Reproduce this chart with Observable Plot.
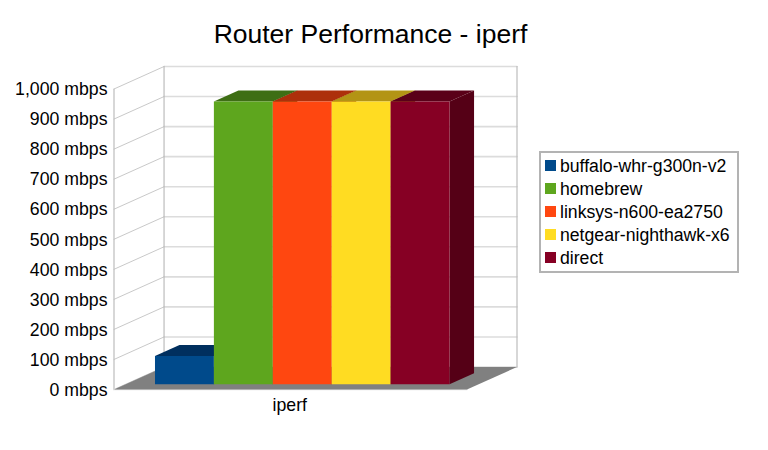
<!DOCTYPE html>
<html>
<head>
<meta charset="utf-8">
<script src="https://cdn.jsdelivr.net/npm/d3@7"></script>
<script src="https://cdn.jsdelivr.net/npm/@observablehq/plot@0.6"></script>
<style>
  html, body { margin: 0; padding: 0; background: #fff; overflow: hidden; }
  body { width: 768px; height: 450px; position: relative; font-family: "Liberation Sans", sans-serif; color: #000; }
  #title { height: 50px; width: 741px; text-align: center; font-size: 26.5px; line-height: 68px; white-space: nowrap; }
  #legend { position: absolute; left: 538.5px; top: 150.5px; width: 196px; height: 118.5px; border: 2px solid #b3b3b3; background: #fff; padding: 0; font-size: 17.65px; }
  #legend div { position: absolute; left: 19.5px; white-space: nowrap; line-height: 20px; }
  #legend i { position: absolute; left: -15px; top: 4px; width: 11px; height: 11px; }
  svg { display: block; }
</style>
</head>
<body>
<div id="title">Router Performance - iperf</div>
<div id="chart"></div>
<div id="legend"></div>
<script>
const category = "iperf";
const seriesNames = ["buffalo-whr-g300n-v2", "homebrew", "linksys-n600-ea2750", "netgear-nighthawk-x6", "direct"];
const seriesValues = [94, 941, 941, 941, 941];
const frontColors = ["#004a8b", "#5ea61e", "#ff4710", "#ffdc22", "#860024"];
const topColors = ["#002f5e", "#3e6e14", "#ad300b", "#b39415", "#5a0018"];
const sideColors = ["#00284f", "#325a10", "#8f2709", "#94790f", "#550016"];
const yTicks = [0, 100, 200, 300, 400, 500, 600, 700, 800, 900, 1000];

// Oblique projection: depth z (0 front .. 1 back) shifts a point in data units.
const depthX = 0.1418, depthY = 74.9;
const barGap = 0.0828, barWidth = 0.1669, zFront = 0.235, zBack = 0.725;
const pt = (x, v, z = 0) => ({x: x + z * depthX, y: v + z * depthY});

const poly = (id, color, pts) => pts.map((p) => ({id, color, x: p.x, y: p.y}));

const floor = poly("floor", "#808080", [pt(0, 0, 0), pt(0, 0, 1), pt(1, 0, 1), pt(1, 0, 0)]);

const backGrid = yTicks.flatMap((v) => [pt(0, v, 1), pt(1, v, 1)].map((p) => ({...p, id: v})));
const sideGrid = yTicks.flatMap((v) => [pt(0, v, 0), pt(0, v, 1)].map((p) => ({...p, id: v})));
const verticals = [
  [pt(0, 0, 0), pt(0, 1000, 0)],
  [pt(0, 0, 1), pt(0, 1000, 1)],
  [pt(1, 0, 1), pt(1, 1000, 1)]
].flatMap((s, i) => s.map((p) => ({...p, id: i})));
const frontBase = [pt(0, 0, 0), pt(1, 0, 0)];

const barFaces = seriesValues.flatMap((v, i) => {
  const x0 = barGap + i * barWidth, x1 = x0 + barWidth;
  return [
    ...poly(`s${i}`, sideColors[i], [pt(x1, 0, zFront), pt(x1, 0, zBack), pt(x1, v, zBack), pt(x1, v, zFront)]),
    ...poly(`t${i}`, topColors[i], [pt(x0, v, zFront), pt(x0, v, zBack), pt(x1, v, zBack), pt(x1, v, zFront)]),
    ...poly(`f${i}`, frontColors[i], [pt(x0, 0, zFront), pt(x0, v, zFront), pt(x1, v, zFront), pt(x1, 0, zFront)])
  ];
});

const chart = Plot.plot({
  width: 768,
  height: 400,
  marginTop: 16,
  marginBottom: 61,
  marginLeft: 113.5,
  marginRight: 251.5,
  style: {fontFamily: "'Liberation Sans', sans-serif", fontSize: "17.7px", background: "#fff", color: "#000"},
  x: {domain: [0, 1 + depthX], label: null},
  y: {domain: [0, 1000 + depthY], label: null},
  color: {type: "identity"},
  marks: [
    Plot.line(backGrid, {x: "x", y: "y", z: "id", stroke: "#dcdcdc", strokeWidth: 1.6}),
    Plot.line(sideGrid, {x: "x", y: "y", z: "id", stroke: "#c9c9c9", strokeWidth: 1}),
    Plot.line(verticals, {x: "x", y: "y", z: "id", stroke: "#bdbdbd", strokeWidth: 1.2}),
    Plot.line(frontBase, {x: "x", y: "y", stroke: "#e2e2e2", strokeWidth: 1.5}),
    Plot.line(floor, {x: "x", y: "y", z: "id", fill: "color", stroke: "none"}),
    Plot.line(barFaces, {x: "x", y: "y", z: "id", fill: "color", stroke: "none"}),
    Plot.axisY({ticks: yTicks, tickSize: 0, tickPadding: 6.5, dy: 0.6, tickFormat: (d) => d3.format(",")(d) + " mbps", label: null}),
    Plot.axisX({ticks: [0.5], tickSize: 0, tickPadding: 8.5, dx: -0.7, tickFormat: () => category, label: null})
  ]
});
document.getElementById("chart").append(chart);

const legend = document.getElementById("legend");
seriesNames.forEach((name, i) => {
  const row = document.createElement("div");
  row.style.top = (3.2 + i * 23.15) + "px";
  row.textContent = name;
  const sw = document.createElement("i");
  sw.style.background = frontColors[i];
  row.prepend(sw);
  legend.append(row);
});
</script>
</body>
</html>
